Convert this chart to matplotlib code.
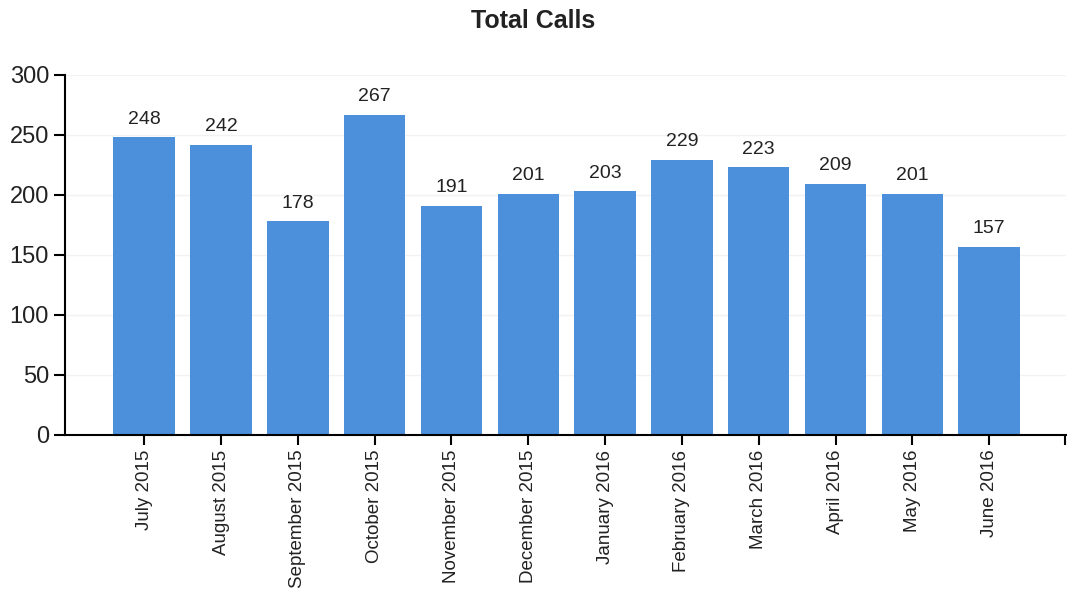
import matplotlib.pyplot as plt

months = ['July 2015', 'August 2015', 'September 2015', 'October 2015',
          'November 2015', 'December 2015', 'January 2016', 'February 2016',
          'March 2016', 'April 2016', 'May 2016', 'June 2016']
calls = [248, 242, 178, 267, 191, 201, 203, 229, 223, 209, 201, 157]

plt.rcParams['font.family'] = ['Liberation Sans', 'DejaVu Sans']

fig = plt.figure(figsize=(10.67, 5.95), dpi=100)
ax = fig.add_axes([0.061, 0.269, 0.938, 0.605])

x = range(len(months))
bars = ax.bar(x, calls, width=0.8, color='#4C8FDB', zorder=2)
ax.bar_label(bars, labels=[str(v) for v in calls], padding=7, fontsize=14, color='#222222')

ax.set_ylim(0, 300)
ax.set_xlim(-1.03, 12.0)
ax.set_yticks([0, 50, 100, 150, 200, 250, 300])
ax.set_xticks(list(x))
ax.set_xticklabels(months, rotation=90, fontsize=13.5, color='#222222')
ax.set_xticks([11.99], minor=True)
ax.tick_params(axis='y', labelsize=17, length=8, width=1.5, labelcolor='#222222')
ax.tick_params(axis='x', which='both', length=7, width=1.5)

ax.grid(axis='y', color='#f2f2f2', linewidth=1, zorder=0)
for side in ['top', 'right']:
    ax.spines[side].set_visible(False)
for side in ['left', 'bottom']:
    ax.spines[side].set_linewidth(1.5)

fig.suptitle('Total Calls', x=0.5, y=0.985, fontsize=18, fontweight='bold', color='#222222')

plt.savefig('out.png', dpi=100)
